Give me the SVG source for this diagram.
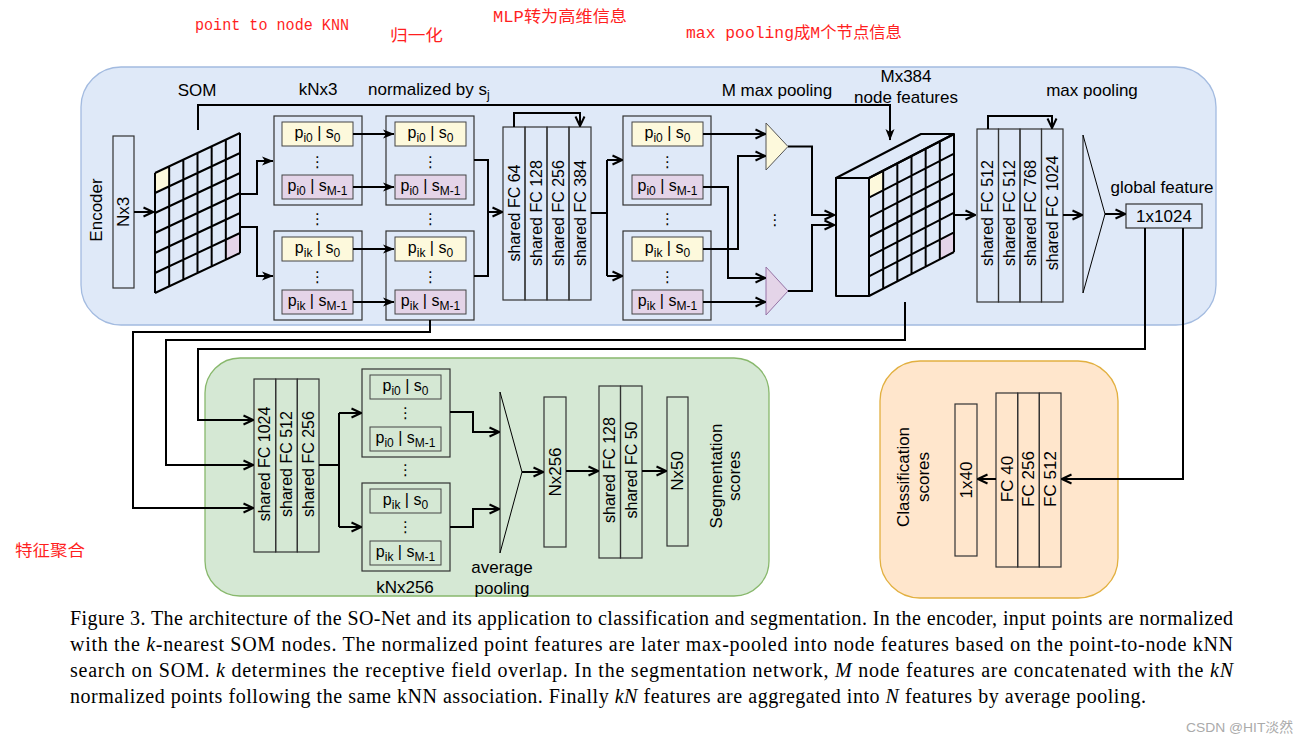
<svg xmlns="http://www.w3.org/2000/svg" width="1307" height="745" viewBox="0 0 1307 745">
<defs>
<style>
.t{font-family:"Liberation Sans",Arial,sans-serif;font-size:17px;fill:#000}
.tc{text-anchor:middle}
.fc{font-family:"Liberation Sans",Arial,sans-serif;font-size:16px;fill:#000;text-anchor:middle}
.pt{font-family:"Liberation Sans",Arial,sans-serif;font-size:16px;fill:#000;text-anchor:middle}
.dots{font-family:"DejaVu Sans",sans-serif;font-size:15px;fill:#000;text-anchor:middle}
.box{fill:none;stroke:#333;stroke-width:1.2}
.ibox{fill:none;stroke:#444;stroke-width:1}
.yel{fill:#fdf9dc;stroke:#444;stroke-width:1}
.pur{fill:#e4d4e8;stroke:#444;stroke-width:1}
.grid{fill:none;stroke:#000;stroke-width:2;stroke-linejoin:round}
.c{fill:none;stroke:#000;stroke-width:2}
.red{font-family:"Liberation Mono","Noto Sans CJK SC",monospace;font-size:16px;fill:#ff1f1f}
.cap{font-family:"Liberation Serif","Times New Roman",serif;font-size:20px;fill:#000}
.it{font-style:italic}
</style>
<marker id="ao" viewBox="0 0 12 12" refX="11" refY="6" markerWidth="12" markerHeight="12" markerUnits="userSpaceOnUse" orient="auto">
<path d="M1.5,1.5 L11,6 L1.5,10.5" fill="none" stroke="#000" stroke-width="2"/>
</marker>
<marker id="af" viewBox="0 0 12 12" refX="11" refY="6" markerWidth="12" markerHeight="12" markerUnits="userSpaceOnUse" orient="auto">
<path d="M0,1.5 L11.5,6 L0,10.5 L3,6 Z" fill="#000"/>
</marker>
</defs>
<rect width="1307" height="745" fill="#fff"/>

<!-- panels -->
<g id="encoder-panel"><rect x="81" y="67" width="1135" height="258" rx="40" fill="#dfe9f8" stroke="#a3bbe0" stroke-width="1.3"/>
<text class="t" transform="translate(96,210) rotate(-90)" text-anchor="middle" dy="0.35em">Encoder</text></g>
<g id="seg-panel"><rect x="205" y="358" width="564" height="238" rx="35" fill="#d5e8d4" stroke="#88b86c" stroke-width="1.3"/></g>
<g id="cls-panel"><rect x="880" y="361" width="238" height="237" rx="40" fill="#ffe6cc" stroke="#e2b040" stroke-width="1.3"/></g>

<!-- red annotations -->
<g id="annotations">
<text class="red" x="195" y="30" textLength="154" lengthAdjust="spacingAndGlyphs">point to node KNN</text>
<text class="red" x="390" y="41" textLength="53" lengthAdjust="spacingAndGlyphs">归一化</text>
<text class="red" x="493" y="22" textLength="134" lengthAdjust="spacingAndGlyphs">MLP转为高维信息</text>
<text class="red" x="686" y="38" textLength="216" lengthAdjust="spacingAndGlyphs">max pooling成M个节点信息</text>
<text class="red" x="15" y="556" textLength="70" lengthAdjust="spacingAndGlyphs">特征聚合</text>
</g>

<!-- encoder labels -->
<g id="enc-labels">
<text class="t tc" x="197" y="96">SOM</text>
<text class="t tc" x="318" y="95">kNx3</text>
<text class="t" x="368" y="95">normalized by s<tspan dy="4" font-size="12">j</tspan></text>
<text class="t tc" x="777" y="96">M max pooling</text>
<text class="t tc" x="906" y="82">Mx384</text>
<text class="t tc" x="906" y="103">node features</text>
<text class="t tc" x="1092" y="96">max pooling</text>
<text class="t tc" x="1162" y="193">global feature</text>
</g>

<!-- Nx3 -->
<g id="node-nx3"><rect class="box" x="113" y="136" width="21" height="152"/>
<text class="t" transform="translate(123.5,212) rotate(-90)" text-anchor="middle" dy="0.35em">Nx3</text></g>

<!-- SOM grid -->
<g id="node-som">
<polygon points="155,173 169.17,166.33 169.17,186.33 155,193" fill="#fdf9dc"/>
<polygon points="225.83,239.67 240,233 240,253 225.83,259.67" fill="#e4d4e8"/>
<path class="grid" d="M155,173V293M169.17,166.33V286.33M183.33,159.67V279.67M197.5,153V273M211.67,146.33V266.33M225.83,139.67V259.67M240,133V253M155,173L240,133M155,193L240,153M155,213L240,173M155,233L240,193M155,253L240,213M155,273L240,233M155,293L240,253"/>
</g>

<!-- kNN groups encoder -->
<g id="knn-a-top">
<rect class="box" x="274" y="116" width="88" height="89"/>
<rect class="yel" x="282" y="122" width="71" height="24"/>
<text class="pt" x="317.5" y="138">p<tspan dy="4" font-size="12">i0</tspan><tspan dy="-4"> | s</tspan><tspan dy="4" font-size="12">0</tspan></text>
<text class="dots" x="317.5" y="167">⋮</text>
<rect class="pur" x="282" y="175" width="71" height="24"/>
<text class="pt" x="317.5" y="191">p<tspan dy="4" font-size="12">i0</tspan><tspan dy="-4"> | s</tspan><tspan dy="4" font-size="12">M-1</tspan></text>
</g>
<g id="knn-a-bot">
<rect class="box" x="274" y="231" width="88" height="89"/>
<rect class="yel" x="282" y="237" width="71" height="24"/>
<text class="pt" x="317.5" y="253">p<tspan dy="4" font-size="12">ik</tspan><tspan dy="-4"> | s</tspan><tspan dy="4" font-size="12">0</tspan></text>
<text class="dots" x="317.5" y="282">⋮</text>
<rect class="pur" x="282" y="290" width="71" height="24"/>
<text class="pt" x="317.5" y="306">p<tspan dy="4" font-size="12">ik</tspan><tspan dy="-4"> | s</tspan><tspan dy="4" font-size="12">M-1</tspan></text>
</g>
<g id="knn-b-top">
<rect class="box" x="386" y="116" width="88" height="89"/>
<rect class="yel" x="395" y="122" width="71" height="24"/>
<text class="pt" x="430.5" y="138">p<tspan dy="4" font-size="12">i0</tspan><tspan dy="-4"> | s</tspan><tspan dy="4" font-size="12">0</tspan></text>
<text class="dots" x="430.5" y="167">⋮</text>
<rect class="pur" x="395" y="175" width="71" height="24"/>
<text class="pt" x="430.5" y="191">p<tspan dy="4" font-size="12">i0</tspan><tspan dy="-4"> | s</tspan><tspan dy="4" font-size="12">M-1</tspan></text>
</g>
<g id="knn-b-bot">
<rect class="box" x="386" y="231" width="88" height="89"/>
<rect class="yel" x="395" y="237" width="71" height="24"/>
<text class="pt" x="430.5" y="253">p<tspan dy="4" font-size="12">ik</tspan><tspan dy="-4"> | s</tspan><tspan dy="4" font-size="12">0</tspan></text>
<text class="dots" x="430.5" y="282">⋮</text>
<rect class="pur" x="395" y="290" width="71" height="24"/>
<text class="pt" x="430.5" y="306">p<tspan dy="4" font-size="12">ik</tspan><tspan dy="-4"> | s</tspan><tspan dy="4" font-size="12">M-1</tspan></text>
</g>
<g id="knn-c-top">
<rect class="box" x="623" y="116" width="88" height="89"/>
<rect class="yel" x="632" y="122" width="71" height="24"/>
<text class="pt" x="667.5" y="138">p<tspan dy="4" font-size="12">i0</tspan><tspan dy="-4"> | s</tspan><tspan dy="4" font-size="12">0</tspan></text>
<text class="dots" x="667.5" y="167">⋮</text>
<rect class="pur" x="632" y="175" width="71" height="24"/>
<text class="pt" x="667.5" y="191">p<tspan dy="4" font-size="12">i0</tspan><tspan dy="-4"> | s</tspan><tspan dy="4" font-size="12">M-1</tspan></text>
</g>
<g id="knn-c-bot">
<rect class="box" x="623" y="231" width="88" height="89"/>
<rect class="yel" x="632" y="237" width="71" height="24"/>
<text class="pt" x="667.5" y="253">p<tspan dy="4" font-size="12">ik</tspan><tspan dy="-4"> | s</tspan><tspan dy="4" font-size="12">0</tspan></text>
<text class="dots" x="667.5" y="282">⋮</text>
<rect class="pur" x="632" y="290" width="71" height="24"/>
<text class="pt" x="667.5" y="306">p<tspan dy="4" font-size="12">ik</tspan><tspan dy="-4"> | s</tspan><tspan dy="4" font-size="12">M-1</tspan></text>
</g>
<g id="enc-dots">
<text class="dots" x="317.5" y="224">⋮</text>
<text class="dots" x="430.5" y="224">⋮</text>
<text class="dots" x="667.5" y="224">⋮</text>
<text class="dots" x="775" y="225">⋮</text>
</g>

<!-- FC stack 1 -->
<g id="node-fc1">
<rect class="box" x="503" y="127" width="22" height="173"/>
<rect class="box" x="525" y="127" width="22" height="173"/>
<rect class="box" x="547" y="127" width="22" height="173"/>
<rect class="box" x="569" y="127" width="22" height="173"/>
<text class="fc" transform="translate(514,213) rotate(-90)" dy="0.35em">shared FC 64</text>
<text class="fc" transform="translate(536,213) rotate(-90)" dy="0.35em">shared FC 128</text>
<text class="fc" transform="translate(558,213) rotate(-90)" dy="0.35em">shared FC 256</text>
<text class="fc" transform="translate(580,213) rotate(-90)" dy="0.35em">shared FC 384</text>
</g>

<!-- max pooling triangles -->
<g id="node-tri-yellow"><polygon points="766,123 788,146.5 766,170" fill="#fdf9dc" stroke="#555" stroke-width="1"/></g>
<g id="node-tri-purple"><polygon points="766,267 788,291 766,315" fill="#e4d4e8" stroke="#9673a6" stroke-width="1"/></g>

<!-- cube -->
<g id="node-cube">
<polygon points="869,178 883.17,170.67 883.17,190.33 869,197.67" fill="#fdf9dc"/>
<polygon points="939.83,239.67 954,232.33 954,252 939.83,259.33" fill="#e4d4e8"/>
<rect class="grid" x="836" y="178" width="33" height="118"/>
<polygon class="grid" points="836,178 921,134 954,134 869,178"/>
<path class="grid" d="M869,178V296M883.17,170.67V288.67M897.33,163.33V281.33M911.5,156V274M925.67,148.67V266.67M939.83,141.33V259.33M954,134V252M869,178L954,134M869,197.67L954,153.67M869,217.33L954,173.33M869,237L954,193M869,256.67L954,212.67M869,276.33L954,232.33M869,296L954,252"/>
</g>

<!-- FC stack 2 -->
<g id="node-fc2">
<rect class="box" x="977" y="129" width="21.5" height="173"/>
<rect class="box" x="998.5" y="129" width="21.5" height="173"/>
<rect class="box" x="1020" y="129" width="21.5" height="173"/>
<rect class="box" x="1041.5" y="129" width="21.5" height="173"/>
<text class="fc" transform="translate(987.75,213) rotate(-90)" dy="0.35em">shared FC 512</text>
<text class="fc" transform="translate(1009.25,213) rotate(-90)" dy="0.35em">shared FC 512</text>
<text class="fc" transform="translate(1030.75,213) rotate(-90)" dy="0.35em">shared FC 768</text>
<text class="fc" transform="translate(1052.25,213) rotate(-90)" dy="0.35em">shared FC 1024</text>
</g>
<g id="node-maxpool"><polygon points="1083,135 1105,214 1083,293" fill="none" stroke="#000" stroke-width="1"/></g>
<g id="node-global"><rect class="box" x="1126" y="204" width="76" height="24"/>
<text class="t tc" x="1164" y="222">1x1024</text></g>

<!-- segmentation -->
<g id="node-seg-fc1">
<rect class="box" x="254" y="379" width="21.7" height="173"/>
<rect class="box" x="275.7" y="379" width="21.6" height="173"/>
<rect class="box" x="297.3" y="379" width="21.7" height="173"/>
<text class="fc" transform="translate(264.8,464) rotate(-90)" dy="0.35em">shared FC 1024</text>
<text class="fc" transform="translate(286.5,464) rotate(-90)" dy="0.35em">shared FC 512</text>
<text class="fc" transform="translate(308.2,464) rotate(-90)" dy="0.35em">shared FC 256</text>
</g>
<g id="knn-seg-top">
<rect class="box" x="362" y="369" width="88" height="88"/>
<rect class="ibox" x="370" y="375" width="71" height="24"/>
<text class="pt" x="405.5" y="391">p<tspan dy="4" font-size="12">i0</tspan><tspan dy="-4"> | s</tspan><tspan dy="4" font-size="12">0</tspan></text>
<text class="dots" x="405.5" y="418">⋮</text>
<rect class="ibox" x="370" y="427" width="71" height="24"/>
<text class="pt" x="405.5" y="443">p<tspan dy="4" font-size="12">i0</tspan><tspan dy="-4"> | s</tspan><tspan dy="4" font-size="12">M-1</tspan></text>
</g>
<g id="knn-seg-bot">
<rect class="box" x="362" y="483" width="88" height="88"/>
<rect class="ibox" x="370" y="489" width="71" height="24"/>
<text class="pt" x="405.5" y="505">p<tspan dy="4" font-size="12">ik</tspan><tspan dy="-4"> | s</tspan><tspan dy="4" font-size="12">0</tspan></text>
<text class="dots" x="405.5" y="532">⋮</text>
<rect class="ibox" x="370" y="541" width="71" height="24"/>
<text class="pt" x="405.5" y="557">p<tspan dy="4" font-size="12">ik</tspan><tspan dy="-4"> | s</tspan><tspan dy="4" font-size="12">M-1</tspan></text>
</g>
<g id="seg-labels">
<text class="dots" x="405.5" y="475">⋮</text>
<text class="t tc" x="405" y="593">kNx256</text>
<text class="t tc" x="502" y="573">average</text>
<text class="t tc" x="502" y="594">pooling</text>
</g>
<g id="node-avgpool"><polygon points="500,392 522,472 500,553" fill="none" stroke="#000" stroke-width="1"/></g>
<g id="node-nx256"><rect class="box" x="544" y="397" width="22" height="150"/>
<text class="t" transform="translate(555,472) rotate(-90)" text-anchor="middle" dy="0.35em">Nx256</text></g>
<g id="node-seg-fc2">
<rect class="box" x="599" y="386" width="21.5" height="172"/>
<rect class="box" x="620.5" y="386" width="21.5" height="172"/>
<text class="fc" transform="translate(609.75,470) rotate(-90)" dy="0.35em">shared FC 128</text>
<text class="fc" transform="translate(631.25,470) rotate(-90)" dy="0.35em">shared FC 50</text>
</g>
<g id="node-nx50"><rect class="box" x="667" y="397" width="21" height="149"/>
<text class="t" transform="translate(677.5,471) rotate(-90)" text-anchor="middle" dy="0.35em">Nx50</text></g>
<g id="seg-scores">
<text class="t" transform="translate(716,476) rotate(-90)" text-anchor="middle" dy="0.35em">Segmentation</text>
<text class="t" transform="translate(734,476) rotate(-90)" text-anchor="middle" dy="0.35em">scores</text>
</g>

<!-- classification -->
<g id="cls-scores">
<text class="t" transform="translate(903,477) rotate(-90)" text-anchor="middle" dy="0.35em">Classification</text>
<text class="t" transform="translate(923,477) rotate(-90)" text-anchor="middle" dy="0.35em">scores</text>
</g>
<g id="node-1x40"><rect class="box" x="955" y="404" width="22" height="152"/>
<text class="t" transform="translate(966,480) rotate(-90)" text-anchor="middle" dy="0.35em">1x40</text></g>
<g id="node-cls-fc">
<rect class="box" x="996" y="393" width="21.7" height="174"/>
<rect class="box" x="1017.7" y="393" width="21.6" height="174"/>
<rect class="box" x="1039.3" y="393" width="21.7" height="174"/>
<text class="t" transform="translate(1006.8,479) rotate(-90)" text-anchor="middle" dy="0.35em">FC 40</text>
<text class="t" transform="translate(1028.5,479) rotate(-90)" text-anchor="middle" dy="0.35em">FC 256</text>
<text class="t" transform="translate(1050.2,479) rotate(-90)" text-anchor="middle" dy="0.35em">FC 512</text>
</g>

<!-- connectors -->
<g id="connectors">
<path class="c" d="M134,212H153" marker-end="url(#ao)"/>
<path class="c" d="M198,130V105H890V140" marker-end="url(#af)"/>
<path class="c" d="M240,194H257V161H273" marker-end="url(#af)"/>
<path class="c" d="M240,227H257V276H273" marker-end="url(#af)"/>
<path class="c" d="M353,134H394" marker-end="url(#af)"/>
<path class="c" d="M353,187H394" marker-end="url(#af)"/>
<path class="c" d="M353,249H394" marker-end="url(#af)"/>
<path class="c" d="M353,302H394" marker-end="url(#af)"/>
<path class="c" d="M474,160H488V276H474"/>
<path class="c" d="M488,212H502" marker-end="url(#ao)"/>
<path class="c" d="M514,127V113H580V126" marker-end="url(#ao)"/>
<path class="c" d="M591,213H607"/>
<path class="c" d="M607,160V276"/>
<path class="c" d="M607,160H622" marker-end="url(#ao)"/>
<path class="c" d="M607,276H622" marker-end="url(#ao)"/>
<path class="c" d="M703,134H765" marker-end="url(#ao)"/>
<path class="c" d="M703,249H738V156H765" marker-end="url(#ao)"/>
<path class="c" d="M703,187H728V278H765" marker-end="url(#ao)"/>
<path class="c" d="M703,302H765" marker-end="url(#ao)"/>
<path class="c" d="M788,146.5H812V215H834" marker-end="url(#ao)"/>
<path class="c" d="M788,291H812V225H834" marker-end="url(#ao)"/>
<path class="c" d="M954,215H975" marker-end="url(#ao)"/>
<path class="c" d="M988,129V116H1052V128" marker-end="url(#ao)"/>
<path class="c" d="M1063,215H1082" marker-end="url(#ao)"/>
<path class="c" d="M1105,214H1125" marker-end="url(#ao)"/>
<path class="c" d="M1145,228V349H198V420H253" marker-end="url(#ao)"/>
<path class="c" d="M1183,228V479H1062" marker-end="url(#ao)"/>
<path class="c" d="M905,302V340H166V465H253" marker-end="url(#ao)"/>
<path class="c" d="M430,320V332H133V508H253" marker-end="url(#ao)"/>
<path class="c" d="M319,465H339"/>
<path class="c" d="M339,413V527"/>
<path class="c" d="M339,413H361" marker-end="url(#ao)"/>
<path class="c" d="M339,527H361" marker-end="url(#ao)"/>
<path class="c" d="M450,412H473V432H499" marker-end="url(#ao)"/>
<path class="c" d="M450,527H473V509H499" marker-end="url(#ao)"/>
<path class="c" d="M522,472H543" marker-end="url(#ao)"/>
<path class="c" d="M566,471H598" marker-end="url(#ao)"/>
<path class="c" d="M642,471H666" marker-end="url(#ao)"/>
<path class="c" d="M996,479H978" marker-end="url(#ao)"/>
</g>

<!-- caption -->
<g id="caption">
<text class="cap" x="70" y="625" textLength="1163" lengthAdjust="spacing">Figure 3. The architecture of the SO-Net and its application to classification and segmentation. In the encoder, input points are normalized</text>
<text class="cap" x="70" y="651" textLength="1163" lengthAdjust="spacing">with the <tspan class="it">k</tspan>-nearest SOM nodes.  The normalized point features are later max-pooled into node features based on the point-to-node kNN</text>
<text class="cap" x="70" y="677" textLength="1163" lengthAdjust="spacing">search on SOM. <tspan class="it">k</tspan> determines the receptive field overlap.  In the segmentation network, <tspan class="it">M</tspan> node features are concatenated with the <tspan class="it">kN</tspan></text>
<text class="cap" x="70" y="703" textLength="1076" lengthAdjust="spacing">normalized points following the same kNN association. Finally <tspan class="it">kN</tspan> features are aggregated into <tspan class="it">N</tspan> features by average pooling.</text>
</g>
<g id="watermark"><text x="1186" y="732" font-family="'Liberation Sans','Noto Sans CJK SC',sans-serif" font-size="13.5" fill="#aaa" textLength="107" lengthAdjust="spacingAndGlyphs">CSDN @HIT淡然</text></g>
</svg>
